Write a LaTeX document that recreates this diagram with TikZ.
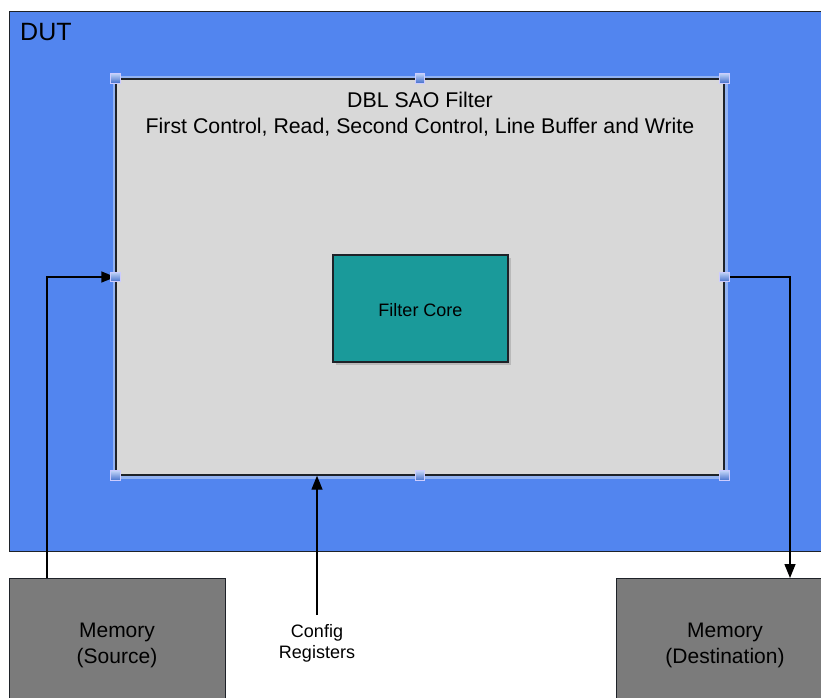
\documentclass[tikz,border=0pt]{standalone}
\usepackage{fontspec}
\setmainfont{Liberation Sans}
\usetikzlibrary{arrows.meta,shadows,calc}
\definecolor{dutblue}{HTML}{5285EF}
\definecolor{halo}{HTML}{93B3F2}
\definecolor{filtergray}{HTML}{D8D8D8}
\definecolor{coreteal}{HTML}{1A9A9A}
\definecolor{memgray}{HTML}{7B7B7B}
\definecolor{edge}{HTML}{1E2228}
\tikzset{
  box/.style={draw=edge, line width=1.4pt, inner sep=0pt, anchor=north west},
  arr/.style={draw=black, line width=1.4pt, -{Triangle[length=14pt,width=11pt]}},
  handle/.style={draw=white!80!blue, line width=1pt, minimum size=9.5pt, inner sep=0pt,
                 top color=halo!60!white, bottom color=dutblue!85!black},
}
\begin{document}
\begin{tikzpicture}[x=1pt,y=-1pt]
  \useasboundingbox (0,0) rectangle (821,697);
  \clip (0,0) rectangle (821,697);
  \fill[white] (0,0) rectangle (821,697);

  % device under test
  \node[box, fill=dutblue, minimum width=830pt, minimum height=540pt] (dut) at (9,11) {};
  \node[anchor=base west, font=\fontsize{25}{30}\selectfont, inner sep=0pt] (dutlabel) at (20,40) {DUT};

  % filter block with selection halo
  \node[draw=none, fill=halo, minimum width=615pt, minimum height=403pt, inner sep=0pt] (filterhalo) at (420,277) {};
  \node[draw=edge, line width=1.4pt, fill=filtergray, minimum width=608pt, minimum height=396pt, inner sep=0pt] (filter) at (420,277) {};
  \node[anchor=north, align=center, inner sep=0pt, font=\fontsize{21.3}{26}\selectfont] (filtertitle) at (420,91.5)
    {DBL SAO Filter\\First Control, Read, Second Control, Line Buffer and Write};

  % filter core
  \node[draw=edge, line width=1.4pt, fill=coreteal, minimum width=175pt, minimum height=107pt, inner sep=0pt,
        drop shadow={shadow xshift=3pt, shadow yshift=-3pt, opacity=0.35}] (core) at (420.5,308.5) {};
  \node[inner sep=0pt, font=\fontsize{18}{22}\selectfont] (coretext) at (420.5,310.5) {Filter Core};

  % memories
  \node[box, fill=memgray, minimum width=216pt, minimum height=130pt] (msrc) at (9,578) {};
  \node[align=center, font=\fontsize{21}{26}\selectfont, inner sep=0pt] (msrctext) at (117,645) {Memory\\(Source)};
  \node[box, fill=memgray, minimum width=216pt, minimum height=130pt] (mdst) at (616,578) {};
  \node[align=center, font=\fontsize{21}{26}\selectfont, inner sep=0pt] (mdsttext) at (725,645) {Memory\\(Destination)};

  % configuration registers
  \node[align=center, font=\fontsize{18}{21}\selectfont, inner sep=0pt] (cfg) at (317,643) {Config\\Registers};
  \coordinate (cfgtop) at (317,615);

  % connectors
  \coordinate (srcout) at ($(msrc.north west)+(38,0)$);
  \coordinate (dstin) at ($(mdst.north west)+(174,0)$);
  \draw[arr] (srcout) |- (filter.west);
  \draw[arr] (filter.east) -| (dstin);
  \draw[arr] (cfgtop) -- (cfgtop |- filter.south);

  % selection handles on top of everything
  \foreach \a [count=\i] in {north west, north, north east, west, east, south west, south, south east}
    \node[handle, name=h\i] at (filter.\a) {};
\end{tikzpicture}
\end{document}
